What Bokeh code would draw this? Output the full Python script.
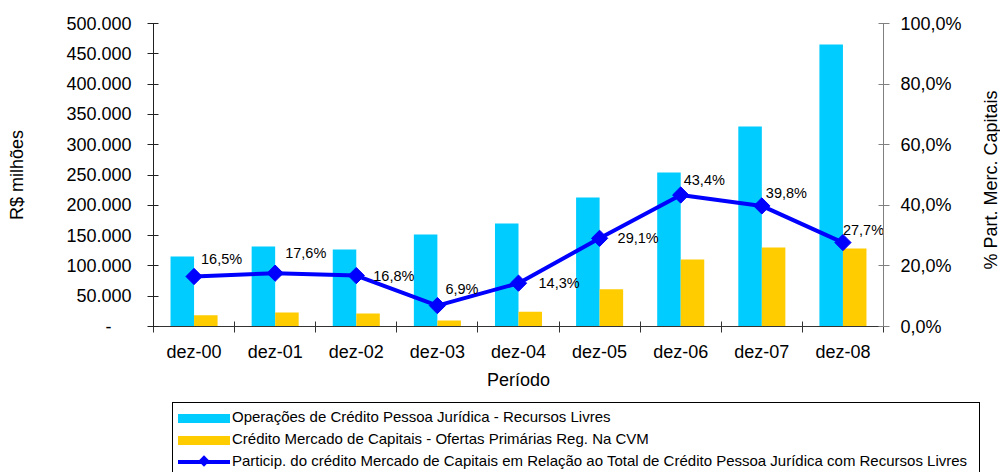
import math
from bokeh.plotting import figure
from bokeh.layouts import column, row
from bokeh.models import (Range1d, LinearAxis, FixedTicker, ColumnDataSource, Div)
from bokeh.transform import dodge
from bokeh.embed import file_html
from bokeh.resources import INLINE
from bokeh.core.properties import value

# ---- data ----
periods = ["dez-00", "dez-01", "dez-02", "dez-03", "dez-04", "dez-05", "dez-06", "dez-07", "dez-08"]
credito_pj = [115500, 132000, 127000, 151800, 170000, 212900, 254100, 330000, 465300]
credito_mc = [18500, 23000, 21500, 10000, 24500, 61500, 110500, 130500, 128700]
particip = [16.5, 17.6, 16.8, 6.9, 14.3, 29.1, 43.4, 39.8, 27.7]
left_ticks = [0, 50000, 100000, 150000, 200000, 250000, 300000, 350000, 400000, 450000, 500000]
right_ticks = [0, 20, 40, 60, 80, 100]
legend_labels = [
    "Operações de Crédito Pessoa Jurídica - Recursos Livres",
    "Crédito Mercado de Capitais - Ofertas Primárias Reg. Na CVM",
    "Particip. do crédito Mercado de Capitais em Relação ao Total de Crédito Pessoa Jurídica com Recursos Livres",
]
right_title = "% Part. Merc. Capitais"

# label placement (pixels) relative to the line points
label_dx = [7, 10, 17, 8, 20, 18, 3, 4, 0]
label_dy = [-18, -20, 0, -17, 0, 0, -15, -13, -13]

FONT = "Liberation Sans"
CYAN = "#00CCFF"
YELLOW = "#FFCC00"
BLUE = "#0000FF"

n = len(periods)
idx = list(range(n))
left_labels = {t: ("-\u00a0\u00a0\u00a0\u00a0" if t == 0 else f"{t:,}".replace(",", ".")) for t in left_ticks}
right_labels = {t: f"{t:.1f}".replace(".", ",") + "%" for t in right_ticks}
x_labels = {i: periods[i] for i in idx}
pct_labels = [f"{v:.1f}".replace(".", ",") + "%" for v in particip]

p = figure(width=980, height=398,
           x_range=Range1d(-0.5, n - 0.5), y_range=Range1d(0, 500000),
           x_axis_location=None, y_axis_location=None,
           output_backend="svg", toolbar_location=None,
           min_border_left=153, min_border_right=97, min_border_top=23, min_border_bottom=72)
p.extra_y_ranges = {"pct": Range1d(0, 100)}
p.grid.visible = False
p.outline_line_color = None
p.background_fill_color = "white"

# left axis
yl = LinearAxis(ticker=FixedTicker(ticks=left_ticks), major_label_overrides=left_labels,
                axis_label="R$ milhões")
yl.axis_line_color = "#222222"
yl.major_tick_line_color = "#222222"
yl.major_tick_in = 5
yl.major_tick_out = 6
yl.minor_tick_line_color = None
yl.major_label_standoff = 16
yl.major_label_text_font = FONT
yl.major_label_text_font_size = "18px"
yl.major_label_text_color = "black"
yl.axis_label_text_font = FONT
yl.axis_label_text_font_size = "18px"
yl.axis_label_text_font_style = "normal"
yl.axis_label_text_color = "black"
yl.axis_label_standoff = 36
p.add_layout(yl, "left")

# right axis (its title is drawn in the strip to the right, reading upwards)
yr = LinearAxis(y_range_name="pct", ticker=FixedTicker(ticks=right_ticks),
                major_label_overrides=right_labels)
yr.axis_line_color = "#808080"
yr.major_tick_line_color = "#808080"
yr.major_tick_in = 5
yr.major_tick_out = 6
yr.minor_tick_line_color = None
yr.major_label_standoff = 11
yr.major_label_text_font = FONT
yr.major_label_text_font_size = "18px"
yr.major_label_text_color = "black"
p.add_layout(yr, "right")

# bottom axis: labels at category centres, tick marks at category boundaries
xa = LinearAxis(ticker=FixedTicker(ticks=idx, minor_ticks=[i - 0.5 for i in range(n + 1)]),
                major_label_overrides=x_labels, axis_label="Período")
xa.axis_line_color = "#333333"
xa.major_tick_line_color = None
xa.major_tick_in = 0
xa.major_tick_out = 6
xa.minor_tick_line_color = "#333333"
xa.minor_tick_in = 5
xa.minor_tick_out = 6
xa.major_label_standoff = 9
xa.major_label_text_font = FONT
xa.major_label_text_font_size = "18px"
xa.major_label_text_color = "black"
xa.axis_label_text_font = FONT
xa.axis_label_text_font_size = "18px"
xa.axis_label_text_font_style = "normal"
xa.axis_label_text_color = "black"
xa.axis_label_standoff = 5
p.add_layout(xa, "below")

src = ColumnDataSource(dict(x=idx, period=periods, pj=credito_pj, mc=credito_mc, pct=particip,
                            lbl=pct_labels, dx=label_dx, dy=label_dy))

p.vbar(x=dodge("x", -0.145), top="pj", width=0.29, source=src, fill_color=CYAN, line_color=None)
p.vbar(x=dodge("x", 0.145), top="mc", width=0.29, source=src, fill_color=YELLOW, line_color=None)
p.line(x="x", y="pct", y_range_name="pct", source=src, line_width=4, line_color=BLUE)
p.scatter(x="x", y="pct", y_range_name="pct", source=src, marker="square",
          angle=math.pi / 4, size=11.5, fill_color=BLUE, line_color=BLUE)
p.text(x="x", y="pct", y_range_name="pct", source=src, text="lbl",
       x_offset="dx", y_offset="dy", text_font=value(FONT), text_font_size="14.5px",
       text_align="left", text_baseline="middle", text_color="black")

# ---- legend strip below the chart (HTML, real text) ----
swatch = ("<span style='display:inline-block;width:52px;height:9px;background:{c};"
          "vertical-align:middle;margin-right:2px;'></span>")
line_swatch = ("<span style='display:inline-block;position:relative;width:52px;height:4px;"
               "background:%s;vertical-align:middle;margin-right:2px;'>"
               "<span style='position:absolute;left:22px;top:-3px;width:8px;height:8px;"
               "background:%s;transform:rotate(45deg);'></span></span>") % (BLUE, BLUE)
row_html = "<div style='height:22px;line-height:22px;white-space:nowrap;'>{sw}{t}</div>"
rows = (row_html.format(sw=swatch.format(c=CYAN), t=legend_labels[0])
        + row_html.format(sw=swatch.format(c=YELLOW), t=legend_labels[1])
        + row_html.format(sw=line_swatch, t=legend_labels[2]))
legend_html = ("<div style='position:relative;width:980px;height:74px;overflow:hidden;"
               "font-family:\"%s\";font-size:15px;color:black;'>"
               "<div style='position:absolute;left:172px;top:4px;width:808px;height:80px;"
               "box-sizing:border-box;border:1px solid black;background:white;"
               "padding:3px 0 0 5px;'>%s</div></div>") % (FONT, rows)
legend_div = Div(text=legend_html, width=980, height=74, margin=0)

# ---- right-hand axis title, reading bottom to top ----
right_html = ("<div style='position:relative;width:20px;height:398px;overflow:hidden;'>"
              "<span style='position:absolute;left:12px;top:180px;white-space:nowrap;"
              "font-family:\"%s\";font-size:18px;color:black;"
              "transform:translate(-50%%,-50%%) rotate(-90deg);'>%s</span></div>") % (FONT, right_title)
right_div = Div(text=right_html, width=20, height=398, margin=0)

layout = row(column(p, legend_div, spacing=0), right_div, spacing=0)
open("out.html", "w").write(file_html(layout, INLINE))
